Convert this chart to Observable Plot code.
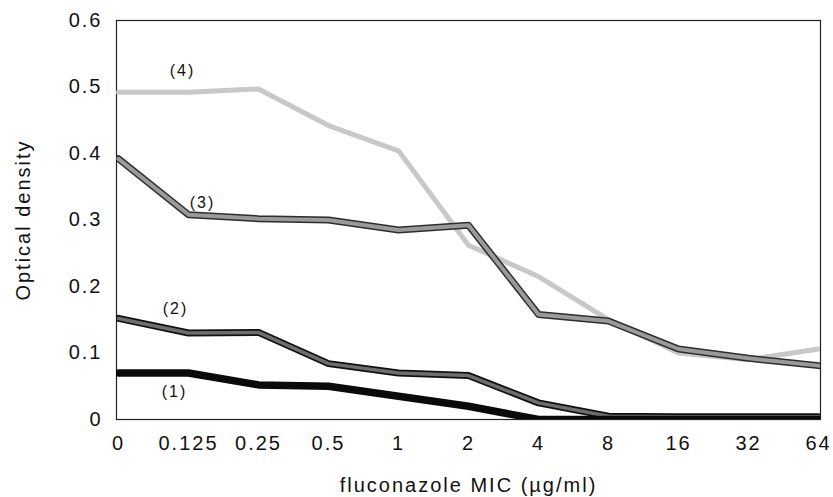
<!DOCTYPE html>
<html>
<head>
<meta charset="utf-8">
<script src="https://cdn.jsdelivr.net/npm/d3@7"></script>
<script src="https://cdn.jsdelivr.net/npm/@observablehq/plot@0.6"></script>
<style>
  html, body { margin: 0; padding: 0; background: #fff; }
  #chart svg text { letter-spacing: 2px; }
  #chart svg g[aria-label="series-label"] text { letter-spacing: 1px; }
</style>
</head>
<body>
<div id="chart"></div>
<script>
// ---- data ----
const categories = ["0", "0.125", "0.25", "0.5", "1", "2", "4", "8", "16", "32", "64"];
const series1 = [0.070, 0.070, 0.052, 0.050, 0.035, 0.020, 0.000, 0.000, 0.000, 0.000, 0.000];
const series2 = [0.152, 0.130, 0.131, 0.084, 0.070, 0.066, 0.025, 0.005, 0.004, 0.004, 0.004];
const series3 = [0.392, 0.308, 0.302, 0.300, 0.285, 0.292, 0.158, 0.148, 0.106, 0.092, 0.081];
const series4 = [0.492, 0.492, 0.497, 0.442, 0.404, 0.262, 0.215, 0.150, 0.100, 0.090, 0.106];
const yTicks = [0, 0.1, 0.2, 0.3, 0.4, 0.5, 0.6];
const seriesNames = ["(1)", "(2)", "(3)", "(4)"];
const labelCategory = ["0.125", "0.125", "0.125", "0.125"];
const labelValue = [0.041, 0.167, 0.326, 0.525];
const xTitle = "fluconazole MIC (\u00b5g/ml)";
const yTitle = "Optical density";

const toRows = (vals) => categories.map((c, i) => ({x: c, y: vals[i]}));
const rows1 = toRows(series1), rows2 = toRows(series2), rows3 = toRows(series3), rows4 = toRows(series4);
const labelRows = seriesNames.map((t, i) => ({t, x: labelCategory[i], y: labelValue[i]}));
const labelShift = [-14, -13, 14, -6];

const chart = Plot.plot({
  width: 833,
  height: 497,
  marginLeft: 116,
  marginRight: 13,
  marginTop: 20,
  marginBottom: 78,
  style: {fontFamily: "'Liberation Sans', Arial, sans-serif", fontSize: "20px", background: "#fff", color: "#111"},
  x: {type: "point", domain: categories, padding: 0},
  y: {domain: [0, 0.6]},
  marks: [
    Plot.frame({stroke: "#222", strokeWidth: 1.2}),
    // (4) light gray
    Plot.line(rows4, {x: "x", y: "y", stroke: "#c8c8c8", strokeWidth: 5, clip: true}),
    // (3) gray with dark edge
    Plot.line(rows3, {x: "x", y: "y", stroke: "#2e2e2e", strokeWidth: 7, clip: true}),
    Plot.line(rows3, {x: "x", y: "y", stroke: "#9a9a9a", strokeWidth: 4, clip: true}),
    // (2) dark gray with black edge
    Plot.line(rows2, {x: "x", y: "y", stroke: "#111", strokeWidth: 7, clip: true}),
    Plot.line(rows2, {x: "x", y: "y", stroke: "#6e6e6e", strokeWidth: 3.5, clip: true}),
    // (1) black
    Plot.line(rows1, {x: "x", y: "y", stroke: "#0a0a0a", strokeWidth: 7.5, clip: true}),
    ...labelRows.map((r, i) => Plot.text([r], {x: "x", y: "y", text: "t", dx: labelShift[i], fontSize: 16, fill: "#111", ariaLabel: "series-label"})),
    Plot.axisX({tickSize: 0, tickPadding: 16, fontSize: 20, label: null}),
    Plot.axisY({ticks: yTicks, tickSize: 0, tickPadding: 14, fontSize: 20, label: null, tickFormat: (d) => String(d)}),
    Plot.text([yTitle], {frameAnchor: "left", textAnchor: "middle", lineAnchor: "middle", dx: -93, rotate: -90, fontSize: 20, fill: "#111"}),
    Plot.text([xTitle], {frameAnchor: "bottom", textAnchor: "middle", dy: 66, lineAnchor: "middle", fontSize: 20, fill: "#111"})
  ]
});
document.getElementById("chart").appendChild(chart);
</script>
</body>
</html>
